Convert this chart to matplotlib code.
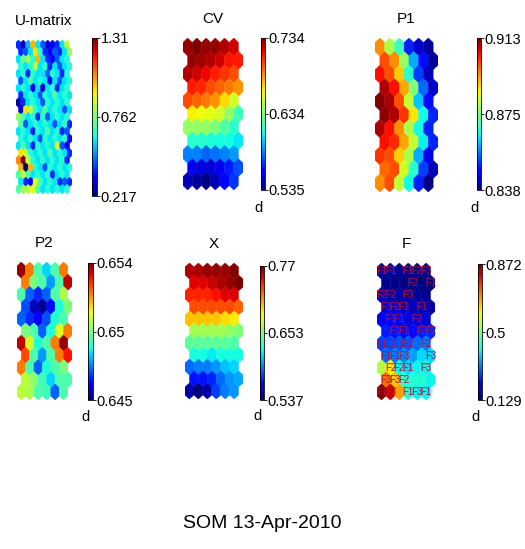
import numpy as np
import matplotlib.pyplot as plt
from matplotlib.collections import PolyCollection

plt.rcParams['font.family'] = ['Liberation Sans', 'DejaVu Sans']

# u-matrix, 21 x 11 hexes (top row first)
umat = [
    [0.40, 0.28, 0.55, 1.00, 0.60, 0.45, 0.30, 0.35, 0.40, 0.60, 0.85],
    [0.40, 0.45, 0.60, 0.95, 0.65, 0.40, 0.35, 0.45, 0.40, 0.60, 0.80],
    [0.60, 0.75, 0.80, 0.65, 1.00, 0.60, 0.40, 0.35, 0.45, 0.60, 0.65],
    [0.65, 0.60, 0.65, 0.85, 0.60, 0.65, 0.40, 0.60, 0.45, 0.60, 0.65],
    [0.60, 0.65, 0.40, 0.65, 0.60, 0.60, 0.45, 0.65, 0.60, 0.40, 0.65],
    [0.45, 0.60, 0.70, 0.60, 0.65, 0.60, 0.35, 0.60, 0.45, 0.60, 0.65],
    [0.60, 0.65, 0.60, 0.35, 0.60, 0.30, 0.60, 0.65, 0.40, 0.60, 0.65],
    [0.40, 0.60, 0.65, 0.60, 0.45, 0.65, 0.60, 0.70, 0.60, 0.65, 0.60],
    [0.25, 0.40, 0.60, 0.65, 0.60, 0.45, 0.65, 0.60, 0.65, 0.60, 0.65],
    [0.30, 0.95, 0.85, 0.65, 0.60, 0.70, 0.60, 0.65, 0.60, 0.45, 0.60],
    [0.80, 0.70, 0.60, 0.65, 0.40, 0.65, 0.45, 0.60, 0.65, 0.60, 0.65],
    [0.70, 0.45, 0.60, 0.65, 0.60, 0.65, 0.60, 0.45, 0.60, 0.65, 0.40],
    [0.60, 0.65, 0.60, 0.40, 0.65, 0.60, 0.70, 0.60, 0.65, 0.40, 0.45],
    [0.65, 0.60, 0.65, 0.60, 0.45, 0.65, 0.60, 0.65, 0.60, 0.65, 0.35],
    [0.60, 0.70, 0.60, 0.40, 0.65, 0.60, 0.65, 0.60, 0.90, 0.45, 0.35],
    [0.95, 0.85, 0.65, 0.60, 0.65, 0.60, 0.70, 0.60, 0.65, 0.60, 0.40],
    [1.05, 1.31, 0.85, 0.65, 0.60, 0.65, 0.60, 0.65, 0.60, 0.65, 0.40],
    [1.00, 0.217, 1.00, 0.65, 0.60, 0.45, 0.65, 0.60, 0.65, 0.60, 0.65],
    [0.70, 0.85, 0.70, 0.60, 0.65, 0.60, 0.65, 0.40, 0.60, 0.65, 0.60],
    [0.60, 0.40, 0.35, 0.90, 0.70, 0.60, 0.65, 0.60, 0.40, 0.45, 0.40],
    [0.70, 0.80, 0.85, 0.90, 0.70, 0.60, 0.65, 0.60, 0.65, 0.60, 0.65],
]

# component planes, 11 x 6 units
cv = [
    [0.730, 0.734, 0.730, 0.730, 0.725, 0.720],
    [0.730, 0.728, 0.725, 0.720, 0.712, 0.710],
    [0.725, 0.720, 0.715, 0.710, 0.705, 0.700],
    [0.710, 0.708, 0.700, 0.695, 0.690, 0.685],
    [0.700, 0.695, 0.690, 0.685, 0.670, 0.655],
    [0.665, 0.662, 0.660, 0.655, 0.640, 0.620],
    [0.640, 0.640, 0.640, 0.635, 0.625, 0.615],
    [0.615, 0.615, 0.612, 0.610, 0.610, 0.605],
    [0.585, 0.585, 0.580, 0.582, 0.585, 0.590],
    [0.555, 0.552, 0.550, 0.555, 0.565, 0.575],
    [0.545, 0.540, 0.535, 0.545, 0.560, 0.570],
]
p1 = [
    [0.895, 0.880, 0.870, 0.850, 0.843, 0.840],
    [0.900, 0.895, 0.878, 0.860, 0.848, 0.840],
    [0.905, 0.900, 0.890, 0.868, 0.852, 0.842],
    [0.910, 0.905, 0.893, 0.876, 0.855, 0.843],
    [0.913, 0.910, 0.900, 0.882, 0.862, 0.848],
    [0.912, 0.910, 0.902, 0.888, 0.866, 0.850],
    [0.910, 0.905, 0.895, 0.880, 0.866, 0.850],
    [0.905, 0.903, 0.893, 0.882, 0.865, 0.850],
    [0.902, 0.900, 0.890, 0.880, 0.860, 0.845],
    [0.898, 0.900, 0.883, 0.868, 0.852, 0.842],
    [0.895, 0.900, 0.882, 0.866, 0.850, 0.838],
]
p2 = [
    [0.6538, 0.6520, 0.6490, 0.6480, 0.6490, 0.6520],
    [0.6520, 0.6495, 0.6490, 0.6475, 0.6490, 0.6535],
    [0.6490, 0.6470, 0.6465, 0.6470, 0.6490, 0.6500],
    [0.6468, 0.6455, 0.6452, 0.6462, 0.6485, 0.6495],
    [0.6470, 0.6465, 0.6460, 0.6468, 0.6485, 0.6490],
    [0.6495, 0.6490, 0.6470, 0.6485, 0.6505, 0.6520],
    [0.6535, 0.6505, 0.6485, 0.6490, 0.6520, 0.6538],
    [0.6525, 0.6490, 0.6475, 0.6490, 0.6520, 0.6530],
    [0.6520, 0.6490, 0.6470, 0.6485, 0.6490, 0.6495],
    [0.6502, 0.6497, 0.6488, 0.6480, 0.6490, 0.6490],
    [0.6502, 0.6500, 0.6490, 0.6488, 0.6470, 0.6490],
]
xvar = [
    [0.760, 0.760, 0.765, 0.765, 0.765, 0.770],
    [0.750, 0.750, 0.755, 0.760, 0.765, 0.770],
    [0.740, 0.740, 0.740, 0.745, 0.750, 0.750],
    [0.730, 0.730, 0.730, 0.730, 0.730, 0.725],
    [0.700, 0.700, 0.700, 0.700, 0.695, 0.690],
    [0.665, 0.665, 0.665, 0.665, 0.660, 0.655],
    [0.645, 0.645, 0.645, 0.645, 0.645, 0.640],
    [0.625, 0.625, 0.620, 0.625, 0.625, 0.625],
    [0.590, 0.595, 0.595, 0.600, 0.610, 0.615],
    [0.570, 0.570, 0.575, 0.590, 0.600, 0.605],
    [0.545, 0.537, 0.545, 0.580, 0.595, 0.600],
]
fvar = [
    [0.150, 0.150, 0.145, 0.140, 0.135, 0.135],
    [0.140, 0.135, 0.135, 0.130, 0.129, 0.130],
    [0.165, 0.160, 0.155, 0.150, 0.145, 0.140],
    [0.185, 0.180, 0.175, 0.170, 0.165, 0.160],
    [0.210, 0.205, 0.200, 0.195, 0.190, 0.185],
    [0.240, 0.235, 0.230, 0.230, 0.240, 0.250],
    [0.270, 0.275, 0.280, 0.285, 0.300, 0.310],
    [0.300, 0.310, 0.320, 0.340, 0.380, 0.380],
    [0.550, 0.620, 0.400, 0.380, 0.400, 0.400],
    [0.720, 0.650, 0.430, 0.420, 0.420, 0.400],
    [0.872, 0.820, 0.680, 0.420, 0.400, 0.400],
]

# labels on the F plane: (row, col, text)
f_labels = [
    (0, 0, 'F1'), (0, 1, 'F1'), (0, 3, 'F1'), (0, 4, 'F2'), (0, 5, 'F3'),
    (1, 3, 'F2'), (1, 5, 'F1'),
    (2, 0, 'F2'), (2, 1, 'F2'), (2, 3, 'F3'),
    (3, 0, 'F3'), (3, 1, 'F2'), (3, 2, 'F1'), (3, 4, 'F1'),
    (4, 1, 'F1'), (4, 2, 'F1'), (4, 4, 'F2'),
    (5, 1, 'F1'), (5, 2, 'F1'), (5, 4, 'F2'), (5, 5, 'F2'),
    (6, 0, 'F1'), (6, 1, 'F1'), (6, 2, 'F3'), (6, 3, 'F2'), (6, 5, 'F2'),
    (7, 0, 'F1'), (7, 1, 'F1'), (7, 2, 'F3'), (7, 5, 'F3'),
    (8, 1, 'F2'), (8, 2, 'F2'), (8, 3, 'F1'), (8, 5, 'F3'),
    (9, 0, 'F3'), (9, 1, 'F3'), (9, 2, 'F2'),
    (10, 0, 'F1'), (10, 1, 'F3'), (10, 3, 'F1'), (10, 4, 'F3'), (10, 5, 'F1'),
]

titles = ['U-matrix', 'CV', 'P1', 'P2', 'X', 'F']
planes = [umat, cv, p1, p2, xvar, fvar]
cb_min = [0.217, 0.535, 0.838, 0.645, 0.537, 0.129]
cb_max = [1.31, 0.734, 0.913, 0.654, 0.77, 0.872]
cb_labels = [['0.217', '0.762', '1.31'], ['0.535', '0.634', '0.734'],
             ['0.838', '0.875', '0.913'], ['0.645', '0.65', '0.654'],
             ['0.537', '0.653', '0.77'], ['0.129', '0.5', '0.872']]
show_d = [False, True, True, True, True, True]

W, H = 525, 549
# panel boxes in pixels: left, top, right, bottom
map_box = [(16, 40, 72, 194), (183, 38, 243, 190), (375, 38, 438, 192),
           (17, 262, 72, 400), (185, 263, 243, 399), (377, 263, 435, 400)]
cb_box = [(92, 38, 97, 196), (261, 38, 265, 190), (477, 38, 481, 190),
          (88, 263, 93, 400), (260, 266, 264, 400), (478, 264, 482, 400)]


def rect(b):
    l, t, r, bt = b
    return [l / W, 1 - bt / H, (r - l) / W, (bt - t) / H]


def hexes(nr, nc):
    r = 1 / np.sqrt(3)
    ang = np.deg2rad(np.arange(90, 450, 60))
    shape = np.c_[r * np.cos(ang), r * np.sin(ang)]
    polys = []
    for i in range(nr):
        for j in range(nc):
            cx = j + 0.5 * (i % 2)
            cy = i * 1.5 * r
            polys.append(shape + [cx, cy])
    return polys


def centre(i, j):
    return j + 0.5 * (i % 2), i * 1.5 / np.sqrt(3)


fig = plt.figure(figsize=(W / 100, H / 100), dpi=100)

for k in range(6):
    vals = np.array(planes[k])
    nr, nc = vals.shape
    ax = fig.add_axes(rect(map_box[k]))
    pc = PolyCollection(hexes(nr, nc), array=vals.ravel(), cmap='jet',
                        edgecolors='face', linewidths=0.3)
    pc.set_clim(cb_min[k], cb_max[k])
    ax.add_collection(pc)
    r = 1 / np.sqrt(3)
    ax.set_xlim(-0.5, nc)
    ax.set_ylim((nr - 1) * 1.5 * r + r, -r)
    ax.axis('off')
    fig.text((map_box[k][0] + map_box[k][2]) / 2 / W,
             1 - (map_box[k][1] - 12) / H, titles[k],
             ha='center', va='bottom', fontsize=11)

    if titles[k] == 'F':
        for i, j, s in f_labels:
            x, y = centre(i, j)
            ax.text(x, y, s, color='#b0103a', fontsize=7,
                    ha='center', va='center')

    cax = fig.add_axes(rect(cb_box[k]))
    cb = fig.colorbar(pc, cax=cax)
    lo, hi = cb_min[k], cb_max[k]
    cb.set_ticks([lo, (lo + hi) / 2, hi])
    cb.set_ticklabels(cb_labels[k])
    cax.tick_params(length=2, width=0.6, labelsize=10.5, pad=0.5)
    cb.outline.set_linewidth(0.6)
    if show_d[k]:
        cax.text(-0.6, -0.07, 'd', transform=cax.transAxes,
                 ha='center', va='top', fontsize=10.5)

fig.text(0.5, 1 - 524 / H, 'SOM 13-Apr-2010', ha='center', va='center',
         fontsize=14)

fig.savefig('out.png', dpi=100)
